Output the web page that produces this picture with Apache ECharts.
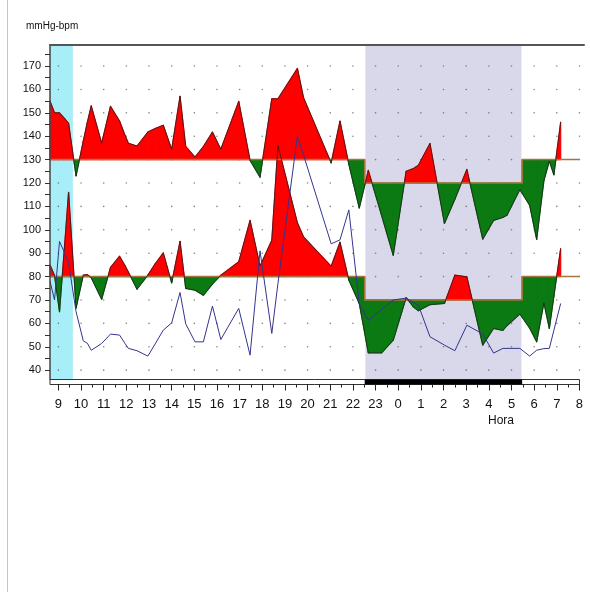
<!DOCTYPE html>
<html>
<head>
<meta charset="utf-8">
<script src="https://cdn.jsdelivr.net/npm/echarts@6/dist/echarts.min.js"></script>
<style>
  html, body { margin: 0; padding: 0; background: #fff; }
  #main { width: 590px; height: 592px; }
</style>
</head>
<body>
<div id="main"></div>
<script>
// horas continuas: 24 = 0h, 32 = 8h del dia siguiente
var horas = [8.63, 8.83, 9.05, 9.28, 9.45, 9.78, 10.1, 10.28, 10.45, 10.91, 11.3, 11.7, 11.94, 12.09,
  12.47, 12.95, 13.27, 13.63, 14.0, 14.37, 14.62, 15.03, 15.4, 15.8, 16.17, 16.96, 17.46, 17.9,
  18.42, 18.69, 19.55, 19.82, 21.04, 21.43, 21.82, 22.28, 22.68, 23.27, 23.78, 24.35, 24.67, 24.89,
  25.4, 26.04, 26.5, 27.03, 27.73, 28.21, 28.62, 28.8, 29.37, 29.8, 30.11, 30.43, 30.67, 30.87, 31.17];
var sistolica = [155, 150, 150, 147.5, 145.5, 123, 138, 146, 153, 137, 152.8, 146.5, 140.4, 137,
  135.8, 141.8, 143.3, 144.7, 134.4, 157.1, 135.6, 131.1, 135.6, 141.8, 134.4, 154.9, 129.7, 122.5,
  156, 156, 169, 156.5, 128.6, 146.5, 128, 109.3, 125.4, 106, 89.1, 125, 126.2, 127.6,
  136.9, 102.7, 113, 125.8, 96, 104, 105.3, 106.2, 117.2, 110.5, 95.9, 121, 129.4, 123.5, 146];
var diastolica = [85, 80.5, 65, 94, 116, 66.5, 80.6, 80.8, 79.5, 70.3, 83.9, 88.7, 84.7, 81.9,
  74.6, 80.6, 85.4, 90.1, 77.3, 95.1, 74.9, 74.2, 72, 76.8, 80.6, 86.3, 104, 84.5,
  95.5, 136, 103, 97, 84.4, 94.7, 78.5, 68.5, 47.4, 47.4, 52.8, 71, 67, 65.4,
  68, 68.5, 80.6, 79.9, 50.7, 57.8, 57, 59, 64, 58, 52.1, 68.8, 57.8, 71.5, 92];
var frecuencia = [78, 70, 95, 90, 86, 65, 52.5, 51.5, 48.5, 51.4, 55.4, 55, 51.4, 49.3,
  48.3, 46, 51.2, 57.1, 60.2, 73.2, 59.8, 52.1, 52.1, 67.4, 53.1, 66.4, 46.4, 91,
  55.7, 77, 140, 132, 94, 95.7, 108.5, 68.5, 61.3, 66, 70, 70.8, 69, 67.8,
  54.3, 50.7, 48.3, 59.2, 55.5, 47.3, 49.3, 49.3, 49.3, 46, 48.5, 49.2, 49.3, 57, 68.5];

var umbralSis = [130, 120]; // [vigilia, sueño]
var umbralDia = [80, 70];
var noche = [22.52, 29.47];
var franjaCian = [8.63, 9.64];
var horasEje = [9, 10, 11, 12, 13, 14, 15, 16, 17, 18, 19, 20, 21, 22, 23, 24, 25, 26, 27, 28, 29, 30, 31, 32];
var valoresEje = [40, 50, 60, 70, 80, 90, 100, 110, 120, 130, 140, 150, 160, 170];

var xMin = 8.63, xMax = 32.2, yMin = 36, yMax = 179;

function umbralEn(t, u) {
  return (t >= noche[0] && t < noche[1]) ? u[1] : u[0];
}

// trozos de relleno entre la curva y el umbral
function piezas(vals, u) {
  var out = [];
  for (var i = 0; i < horas.length - 1; i++) {
    var t0 = horas[i], t1 = horas[i + 1];
    var cortes = [t0];
    noche.forEach(function (c) {
      if (c > t0 && c < t1) cortes.push(c);
    });
    cortes.push(t1);
    for (var k = 0; k < cortes.length - 1; k++) {
      var a = cortes[k], b = cortes[k + 1];
      var va = vals[i] + (vals[i + 1] - vals[i]) * (a - t0) / (t1 - t0);
      var vb = vals[i] + (vals[i + 1] - vals[i]) * (b - t0) / (t1 - t0);
      out.push([a, va, b, vb, umbralEn((a + b) / 2, u)]);
    }
  }
  return out;
}

function lineaUmbral(u) {
  return [[horas[0], u[0]], [noche[0], u[0]], [noche[0], u[1]], [noche[1], u[1]], [noche[1], u[0]], [32, u[0]]];
}

function renderPieza(params, api) {
  var a = api.value(0), va = api.value(1), b = api.value(2), vb = api.value(3), u = api.value(4);
  var da = va - u, db = vb - u;
  var polys = [];
  if (da * db < 0) {
    var tc = a + (b - a) * da / (da - db);
    polys.push({ pts: [[a, u], [a, va], [tc, u]], up: da > 0 });
    polys.push({ pts: [[tc, u], [b, vb], [b, u]], up: db > 0 });
  } else {
    polys.push({ pts: [[a, u], [a, va], [b, vb], [b, u]], up: (da + db) > 0 });
  }
  return {
    type: 'group',
    children: polys.map(function (p) {
      var c = p.up ? '#ff0000' : '#0b7a12';
      return {
        type: 'polygon',
        shape: { points: p.pts.map(function (q) { return api.coord(q); }) },
        style: { fill: c, stroke: c, lineWidth: 1.2, lineJoin: 'round' }
      };
    })
  };
}

function renderBanda(params, api) {
  var p0 = api.coord([api.value(0), yMax]);
  var p1 = api.coord([api.value(1), yMin]);
  return {
    type: 'rect',
    shape: { x: p0[0], y: p0[1], width: p1[0] - p0[0], height: p1[1] - p0[1] },
    style: { fill: api.value(2) === 0 ? '#a8eef8' : '#d9d8ea' }
  };
}

function renderBarra(params, api) {
  var p0 = api.coord([xMin, yMin]);
  var p1 = api.coord([32, yMin]);
  var n0 = api.coord([noche[0], yMin]);
  var n1 = api.coord([noche[1], yMin]);
  return {
    type: 'group',
    children: [
      { type: 'rect', shape: { x: p0[0], y: p0[1], width: p1[0] - p0[0], height: 5 },
        style: { fill: '#fff', stroke: '#333', lineWidth: 1 } },
      { type: 'rect', shape: { x: n0[0], y: p0[1], width: n1[0] - n0[0], height: 5 },
        style: { fill: '#000' } }
    ]
  };
}

var puntos = [];
horasEje.forEach(function (h) {
  valoresEje.forEach(function (v) { puntos.push([h, v]); });
});

var medios = [];
for (var h = 9; h <= 32; h += 0.5) medios.push(h);
var ticksY = [];
for (var v = 40; v <= 175; v += 5) ticksY.push(v);

var fuente = '"Liberation Sans", Arial, sans-serif';

var chart = echarts.init(document.getElementById('main'));
chart.setOption({
  animation: false,
  grid: { left: 50, right: 6, top: 45, bottom: 212.5 },
  xAxis: [{
    type: 'value', min: xMin, max: xMax, offset: 5, z: 10,
    axisLine: { show: false },
    splitLine: { show: false },
    axisTick: { show: true, length: 6, customValues: horasEje, lineStyle: { color: '#222' } },
    axisLabel: {
      customValues: horasEje, margin: 13, color: '#111', fontSize: 13, fontFamily: fuente,
      formatter: function (val) { return String(Math.round(val) % 24); }
    }
  }, {
    type: 'value', min: xMin, max: xMax, offset: 5, position: 'bottom', z: 10,
    axisLine: { show: false },
    splitLine: { show: false },
    axisTick: { show: true, length: 3, customValues: medios, lineStyle: { color: '#222' } },
    axisLabel: { show: false }
  }, {
    type: 'value', min: xMin, max: xMax, position: 'top', z: 10,
    axisLine: { show: true, lineStyle: { color: '#555', width: 2 } },
    splitLine: { show: false },
    axisTick: { show: false },
    axisLabel: { show: false }
  }],
  yAxis: {
    type: 'value', min: yMin, max: yMax, z: 10,
    axisLine: { show: true, lineStyle: { color: '#444', width: 1.5 } },
    splitLine: { show: false },
    axisTick: { show: true, length: 5, customValues: ticksY, lineStyle: { color: '#333' } },
    axisLabel: { customValues: valoresEje, margin: 9, color: '#111', fontSize: 11, fontFamily: fuente }
  },
  graphic: [
    { type: 'line', shape: { x1: 7.5, y1: 0, x2: 7.5, y2: 592 }, style: { stroke: '#c4c4c4', lineWidth: 1 } },
    { type: 'text', left: 26, top: 21, style: { text: 'mmHg-bpm', fontSize: 10, fontFamily: fuente, fill: '#111' } },
    { type: 'text', left: 488, top: 415, style: { text: 'Hora', fontSize: 12, fontFamily: fuente, fill: '#111' } }
  ],
  series: [
    {
      type: 'custom', z: 1, silent: true, renderItem: renderBanda,
      data: [[franjaCian[0], franjaCian[1], 0], [noche[0] + 0.03, noche[1] - 0.03, 1]]
    },
    {
      type: 'scatter', z: 2, silent: true, symbolSize: 1.6,
      itemStyle: { color: '#666' }, data: puntos
    },
    { type: 'custom', z: 3, silent: true, renderItem: renderPieza, data: piezas(sistolica, umbralSis) },
    { type: 'custom', z: 3, silent: true, renderItem: renderPieza, data: piezas(diastolica, umbralDia) },
    {
      type: 'line', z: 4, silent: true, symbol: 'none', data: lineaUmbral(umbralSis),
      lineStyle: { color: '#a8743e', width: 1.5 }
    },
    {
      type: 'line', z: 4, silent: true, symbol: 'none', data: lineaUmbral(umbralDia),
      lineStyle: { color: '#a8743e', width: 1.5 }
    },
    {
      type: 'line', z: 5, silent: true, symbol: 'none',
      data: horas.map(function (t, i) { return [t, sistolica[i]]; }),
      lineStyle: { color: '#222', width: 0.8 }
    },
    {
      type: 'line', z: 5, silent: true, symbol: 'none',
      data: horas.map(function (t, i) { return [t, diastolica[i]]; }),
      lineStyle: { color: '#222', width: 0.8 }
    },
    {
      type: 'line', z: 6, silent: true, symbol: 'none',
      data: horas.map(function (t, i) { return [t, frecuencia[i]]; }),
      lineStyle: { color: '#34348e', width: 1 }
    },
    { type: 'custom', z: 7, silent: true, clip: false, renderItem: renderBarra, data: [[xMin, 32]] }
  ]
});
</script>
</body>
</html>
